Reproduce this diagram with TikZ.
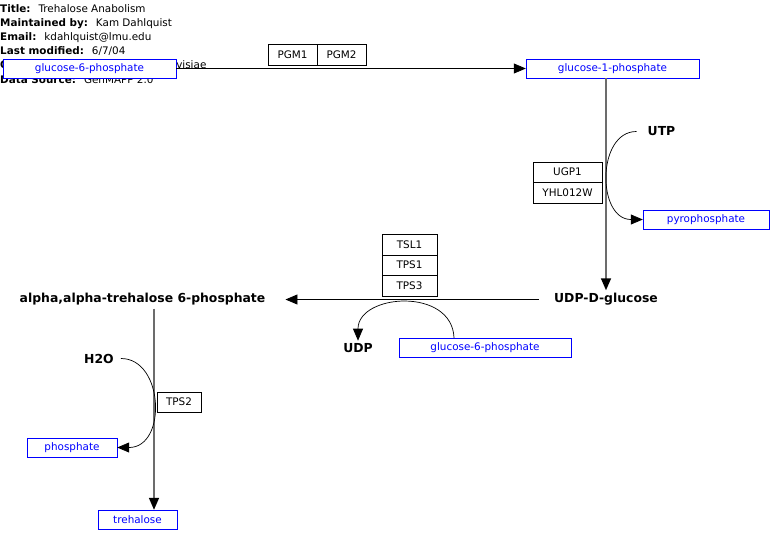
\documentclass[tikz,border=0pt]{standalone}
\usepackage{fontspec}
\setmainfont{DejaVu Sans}
\usetikzlibrary{arrows.meta,positioning}

\begin{document}
\begin{tikzpicture}[
  x=1pt, y=-1pt, font=\fontsize{10.4}{12}\selectfont,
  >={Triangle[length=12pt,width=10pt]},
  hdr/.style={anchor=base west,inner sep=0pt},
  met/.style={draw=blue,fill=white,text=blue,minimum height=19pt,inner sep=1pt},
  gene/.style={draw,fill=white,minimum height=20.5pt,inner sep=1pt,outer sep=0pt},
  cpd/.style={font=\fontsize{12.4}{14}\selectfont\bfseries,inner sep=3pt},
  main/.style={->,black,line width=0.8pt},
  trunk/.style={-{Triangle[length=12pt,width=10pt,color=black]},gray!85!black,line width=1.6pt},
  side/.style={->,black,line width=0.7pt},
]
\useasboundingbox (0,0) rectangle (784,544);

% header block
\foreach \k/\lbl/\val in {1/{Title:}/{Trehalose Anabolism},
    2/{Maintained by:}/{Kam Dahlquist}, 3/{Email:}/{kdahlquist@lmu.edu},
    4/{Last modified:}/{6/7/04}, 5/{Organism:}/{Saccharomyces cerevisiae},
    6/{Data Source:}/{GenMAPP 2.0}}{
  \node[hdr] (hdr\k) at ({0},{12+14.2*(\k-1)}) {\textbf{\lbl}\hspace{8pt}\val};
}

% ---- top: glucose-6-phosphate -> glucose-1-phosphate ----
\node[met,minimum width=173pt] (g6pa) at (89.5,68.5) {glucose-6-phosphate};
\node[met,minimum width=173pt] (g1p) at (612.5,68.5) {glucose-1-phosphate};
\node[gene,minimum width=49pt] (pgm1) at (292.5,54.5) {PGM1};
\node[gene,minimum width=49pt,right=0pt of pgm1] (pgm2) {PGM2};
\draw[main] (g6pa) -- (g1p);

% ---- right: glucose-1-phosphate -> UDP-D-glucose ----
\node[cpd] (udpg) at (606,299.5) {UDP-D-glucose};
\node[gene,minimum width=69pt] (ugp1) at (567.5,172) {UGP1};
\node[gene,minimum width=69pt,below=0pt of ugp1] (yhl) {YHL012W};
\node[cpd] (utp) at (661.5,131.5) {UTP};
\node[met,minimum width=126pt] (pyro) at (706,219.5) {pyrophosphate};
\draw[trunk] (udpg |- g1p.south) -- (udpg);
\draw[side,shorten <=8pt] (utp.west) .. controls +(-48,0) and +(-46,0) .. (pyro.west);

% ---- middle: UDP-D-glucose -> trehalose 6-phosphate ----
\node[cpd] (t6p) at (142.5,299.5) {alpha,alpha-trehalose 6-phosphate};
\node[gene,minimum width=55pt] (tsl1) at (409.5,244.5) {TSL1};
\node[gene,minimum width=55pt,below=0pt of tsl1] (tps1) {TPS1};
\node[gene,minimum width=55pt,below=0pt of tps1] (tps3) {TPS3};
\node[cpd] (udp) at (358,348.5) {UDP};
\node[met,minimum width=172pt] (g6pb) at (485,347.5) {glucose-6-phosphate};
\draw[main,shorten <=12pt,shorten >=17pt] (udpg) -- (t6p);
\draw[side] ([xshift=-31pt]g6pb.north) .. controls +(-2,-51) and +(0,-47) .. (udp.north);

% ---- left: trehalose 6-phosphate -> trehalose ----
\node[met,minimum width=79pt] (treh) at (137.5,519.5) {trehalose};
\node[gene,minimum width=44pt,minimum height=20pt] (tps2) at (179,402) {TPS2};
\node[cpd] (h2o) at (99,358.5) {H2O};
\node[met,minimum width=90pt] (phos) at (72,447.5) {phosphate};
\draw[trunk] ([xshift=11.5pt]t6p.south) -- ([xshift=11.5pt]t6p.south |- treh.north);
\draw[side,shorten <=4pt] (h2o.east) .. controls +(47,0) and +(50,0) .. (phos.east);
\end{tikzpicture}
\end{document}
